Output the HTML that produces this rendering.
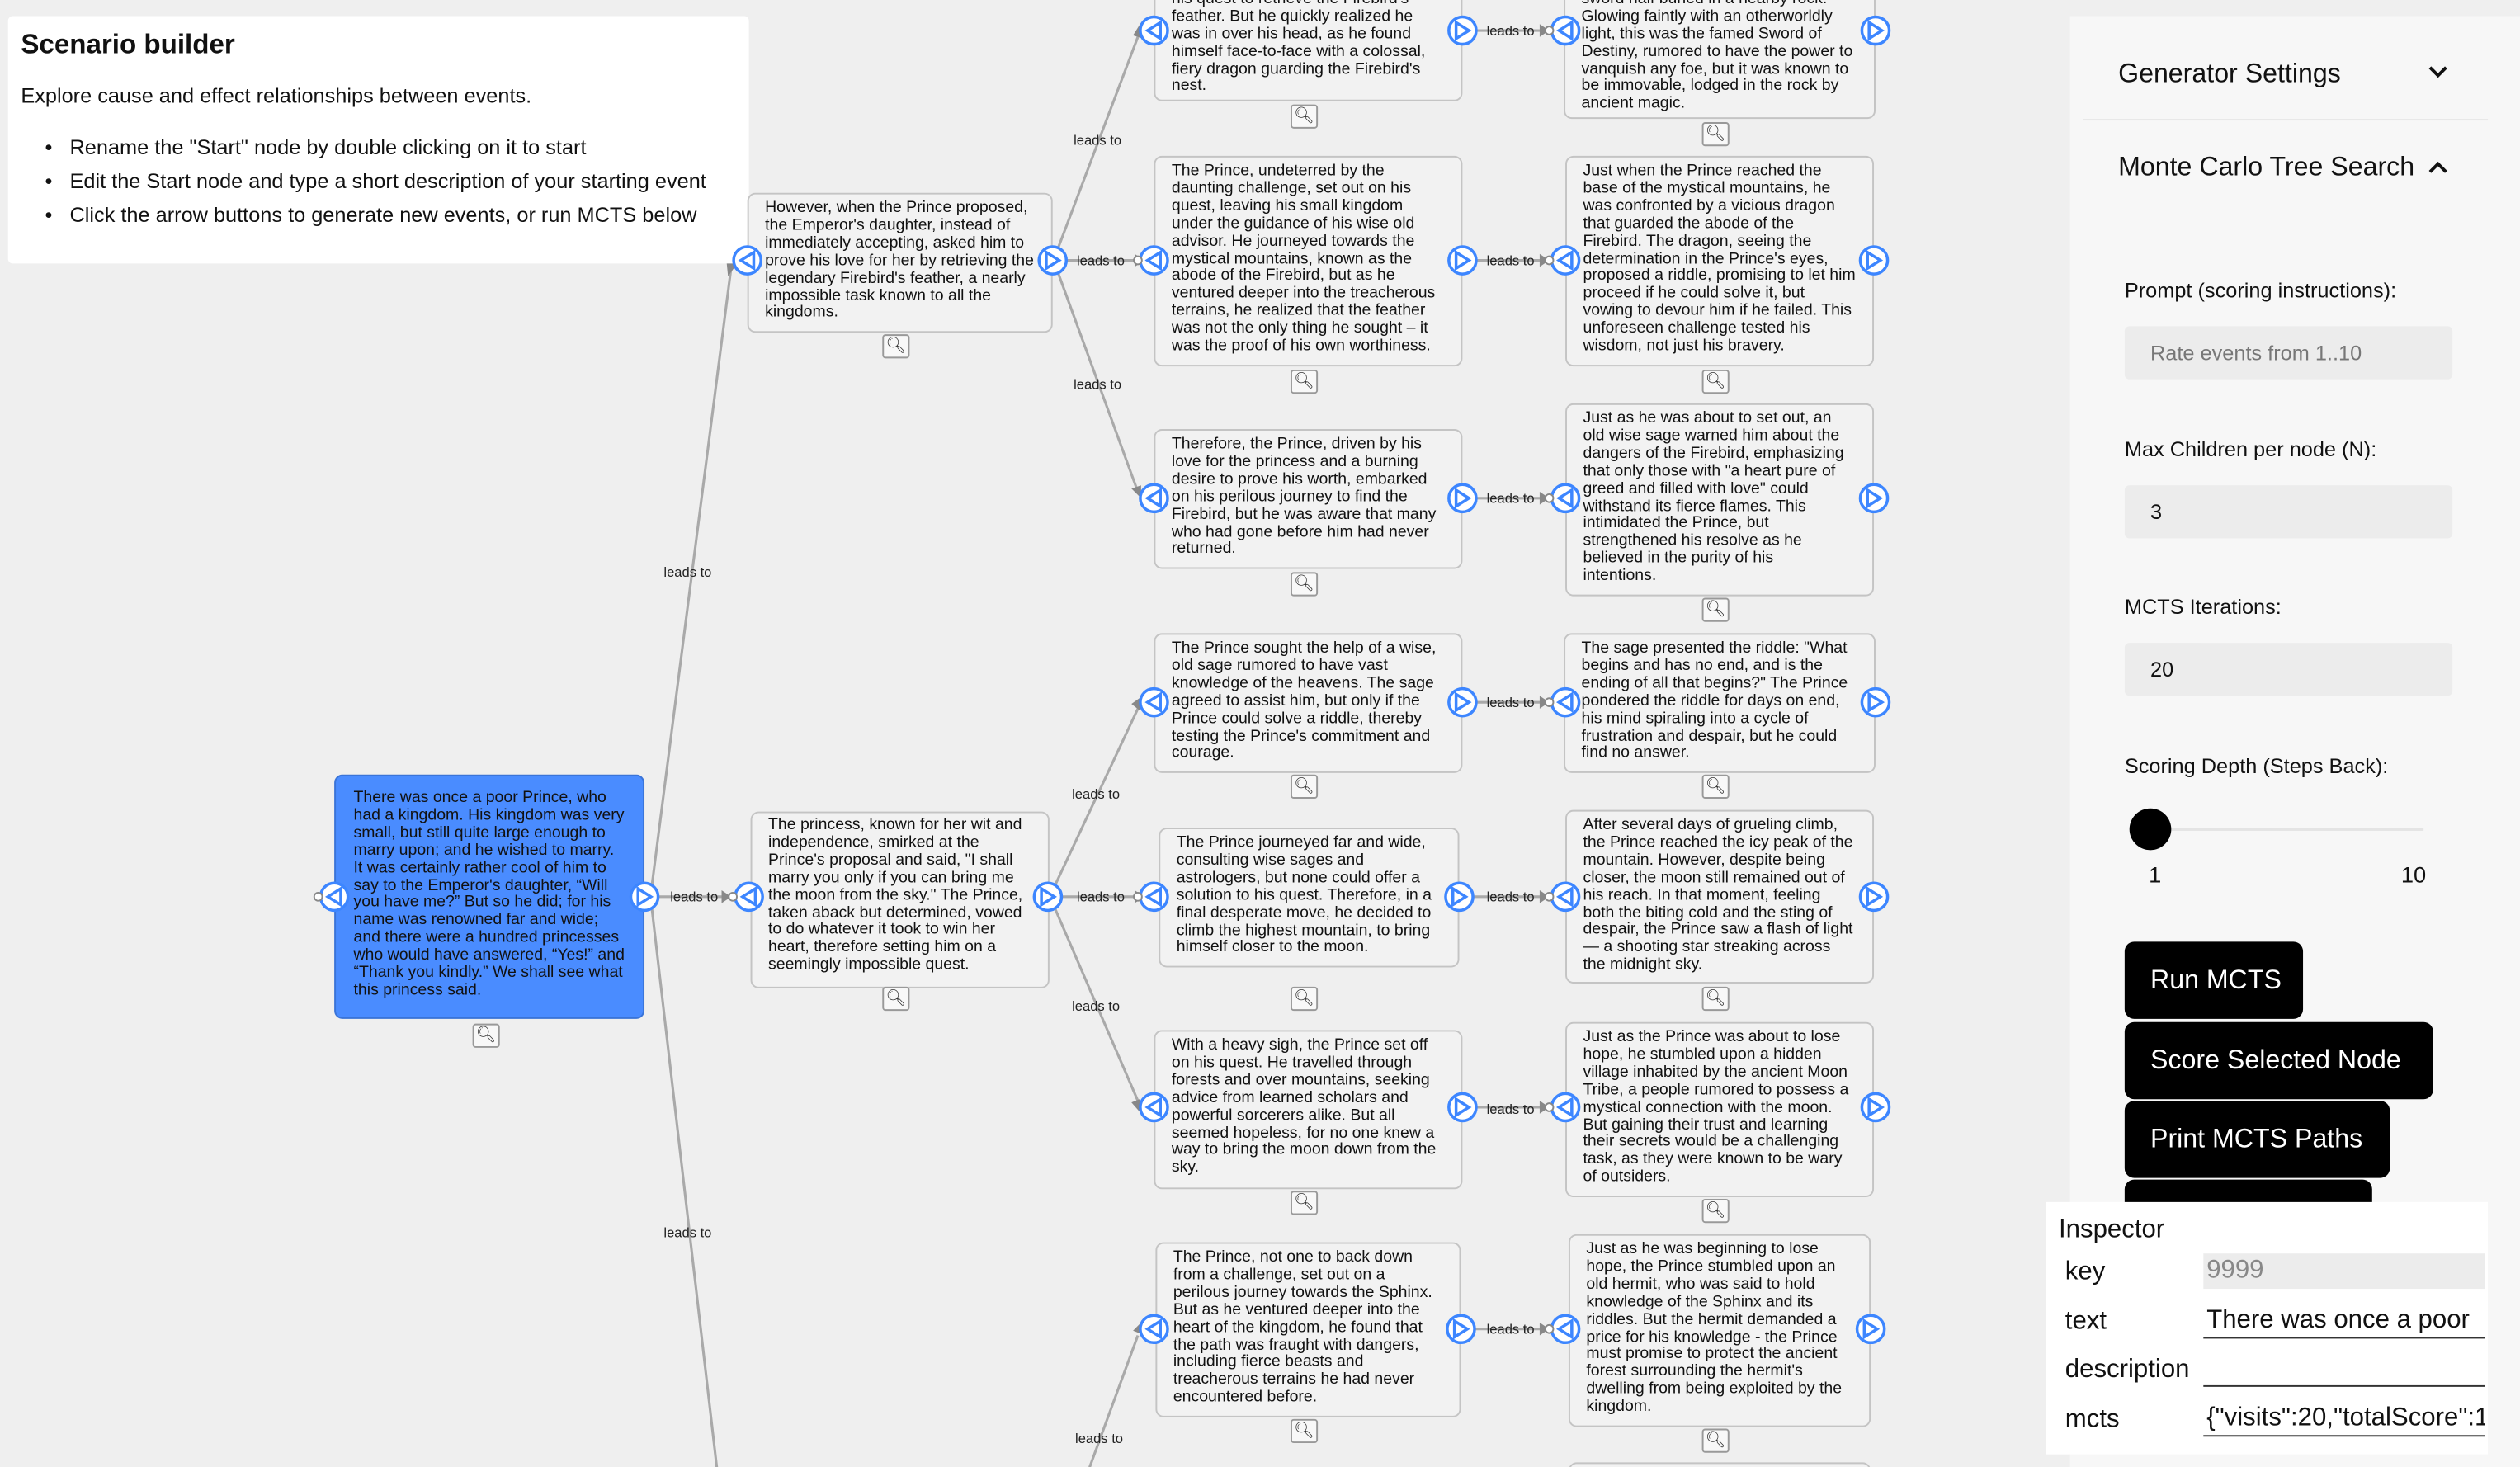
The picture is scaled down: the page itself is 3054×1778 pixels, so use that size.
<!DOCTYPE html>
<html><head><meta charset="utf-8">
<style>
html,body{margin:0;padding:0;}
body{width:3054px;height:1778px;overflow:hidden;background:#efefef;font-family:"Liberation Sans",Arial,sans-serif;}
#s{position:absolute;left:0;top:0;width:1568px;height:913px;transform:scale(1.94770);transform-origin:0 0;overflow:hidden;}
.n{position:absolute;background:#f2f2f2;border:1px solid #c4c4c4;border-radius:5px;box-sizing:border-box;padding:9px 10px 0 10px;font-size:10px;line-height:10.9px;color:#111;overflow:hidden;}
.n.b{background:#4a8cff;border-color:#3a74d8;}
.m{position:absolute;width:17px;height:15px;background:#f8f8f8;border:1px solid #999;border-radius:2px;box-sizing:border-box;font-size:10px;line-height:13px;text-align:center;color:#333;}
.lbl{position:absolute;font-size:8.5px;color:#222;}
.p{position:absolute;font-size:13px;color:#111;}
</style></head><body><div id="s">

<svg width="1568" height="913" style="position:absolute;left:0;top:0">
<g stroke="#a9a9a9" stroke-width="1.6" fill="none">
<line x1="405" y1="556" x2="455" y2="166"/>
<line x1="405" y1="560" x2="446" y2="913"/>
<line x1="405" y1="558" x2="458" y2="558"/>
<line x1="657" y1="158" x2="708" y2="23"/>
<line x1="657" y1="162" x2="710" y2="162"/>
<line x1="657" y1="166" x2="708" y2="306"/>
<line x1="655" y1="554" x2="708" y2="441"/>
<line x1="655" y1="558" x2="710" y2="558"/>
<line x1="655" y1="562" x2="708" y2="685"/>
<line x1="678" y1="913" x2="708" y2="831"/>
<line x1="912" y1="19" x2="965" y2="19"/>
<line x1="912" y1="162" x2="965" y2="162"/>
<line x1="912" y1="310" x2="965" y2="310"/>
<line x1="912" y1="437" x2="965" y2="437"/>
<line x1="912" y1="558" x2="965" y2="558"/>
<line x1="912" y1="689" x2="965" y2="689"/>
<line x1="912" y1="827" x2="965" y2="827"/>
</g>
<g fill="#888">
<polygon points="453,172 452,162 458,165"/>
<polygon points="455,558 449,554 449,562"/>
<polygon points="710,14 705,22 711,24"/>
<polygon points="712,162 706,158 706,166"/>
<polygon points="710,310 704,304 710,302"/>
<polygon points="711,433 704,438 709,442"/>
<polygon points="712,558 706,554 706,562"/>
<polygon points="711,694 704,686 709,684"/>
<polygon points="711,822 705,828 710,830"/>
<polygon points="964,19 958,15 958,23"/><polygon points="964,162 958,158 958,166"/>
<polygon points="964,310 958,306 958,314"/><polygon points="964,437 958,433 958,441"/>
<polygon points="964,558 958,554 958,562"/><polygon points="964,689 958,685 958,693"/>
<polygon points="964,827 958,823 958,831"/>
</g>
</svg>

<!-- left panel -->
<div style="position:absolute;left:5px;top:10px;width:461px;height:154px;background:#fff;border-radius:3px"></div>
<div style="position:absolute;left:13px;top:18px;font-size:17px;font-weight:bold;color:#111">Scenario builder</div>
<div class="p" style="left:13px;top:52px">Explore cause and effect relationships between events.</div>
<div class="p" style="left:28px;top:84px">•&nbsp;&nbsp; Rename the "Start" node by double clicking on it to start</div>
<div class="p" style="left:28px;top:105px">•&nbsp;&nbsp; Edit the Start node and type a short description of your starting event</div>
<div class="p" style="left:28px;top:126px">•&nbsp;&nbsp; Click the arrow buttons to generate new events, or run MCTS below</div>

<!-- labels -->
<div class="lbl" style="left:413px;top:351px">leads to</div>
<div class="lbl" style="left:413px;top:762px">leads to</div>
<div class="lbl" style="left:417px;top:553px">leads to</div>
<div class="lbl" style="left:668px;top:82px">leads to</div>
<div class="lbl" style="left:670px;top:157px">leads to</div>
<div class="lbl" style="left:668px;top:234px">leads to</div>
<div class="lbl" style="left:667px;top:489px">leads to</div>
<div class="lbl" style="left:670px;top:553px">leads to</div>
<div class="lbl" style="left:667px;top:621px">leads to</div>
<div class="lbl" style="left:669px;top:890px">leads to</div>
<div class="lbl" style="left:925px;top:14px">leads to</div>
<div class="lbl" style="left:925px;top:157px">leads to</div>
<div class="lbl" style="left:925px;top:305px">leads to</div>
<div class="lbl" style="left:925px;top:432px">leads to</div>
<div class="lbl" style="left:925px;top:553px">leads to</div>
<div class="lbl" style="left:925px;top:685px">leads to</div>
<div class="lbl" style="left:925px;top:822px">leads to</div>

<!-- nodes -->
<div class="n b" style="left:208px;top:482px;width:193px;height:152px;padding-left:11px">There was once a poor Prince, who had a kingdom. His kingdom was very small, but still quite large enough to marry upon; and he wished to marry. It was certainly rather cool of him to say to the Emperor's daughter, “Will you have me?” But so he did; for his name was renowned far and wide; and there were a hundred princesses who would have answered, “Yes!” and “Thank you kindly.” We shall see what this princess said.</div>
<div class="m" style="left:294px;top:637px">&#x1F50D;&#xFE0E;</div>

<div class="n" style="left:465px;top:120px;width:190px;height:87px;padding-top:4px">However, when the Prince proposed, the Emperor's daughter, instead of immediately accepting, asked him to prove his love for her by retrieving the legendary Firebird's feather, a nearly impossible task known to all the kingdoms.</div>
<div class="m" style="left:549px;top:208px">&#x1F50D;&#xFE0E;</div>
<div class="n" style="left:467px;top:505px;width:186px;height:110px;padding-top:3px">The princess, known for her wit and independence, smirked at the Prince's proposal and said, "I shall marry you only if you can bring me the moon from the sky." The Prince, taken aback but determined, vowed to do whatever it took to win her heart, therefore setting him on a seemingly impossible quest.</div>
<div class="m" style="left:549px;top:614px">&#x1F50D;&#xFE0E;</div>

<div class="n" style="left:718px;top:-20px;width:192px;height:83px;padding-top:3px">Thereafter, the Prince embarked on his quest to retrieve the Firebird's feather. But he quickly realized he was in over his head, as he found himself face-to-face with a colossal, fiery dragon guarding the Firebird's nest.</div>
<div class="m" style="left:803px;top:65px">&#x1F50D;&#xFE0E;</div>
<div class="n" style="left:718px;top:97px;width:192px;height:131px;padding-top:4px">The Prince, undeterred by the daunting challenge, set out on his quest, leaving his small kingdom under the guidance of his wise old advisor. He journeyed towards the mystical mountains, known as the abode of the Firebird, but as he ventured deeper into the treacherous terrains, he realized that the feather was not the only thing he sought – it was the proof of his own worthiness.</div>
<div class="m" style="left:803px;top:230px">&#x1F50D;&#xFE0E;</div>
<div class="n" style="left:718px;top:267px;width:192px;height:87px;padding-top:4px">Therefore, the Prince, driven by his love for the princess and a burning desire to prove his worth, embarked on his perilous journey to find the Firebird, but he was aware that many who had gone before him had never returned.</div>
<div class="m" style="left:803px;top:356px">&#x1F50D;&#xFE0E;</div>
<div class="n" style="left:718px;top:394px;width:192px;height:87px;padding-top:4px">The Prince sought the help of a wise, old sage rumored to have vast knowledge of the heavens. The sage agreed to assist him, but only if the Prince could solve a riddle, thereby testing the Prince's commitment and courage.</div>
<div class="m" style="left:803px;top:482px">&#x1F50D;&#xFE0E;</div>
<div class="n" style="left:721px;top:515px;width:187px;height:87px;padding-top:4px">The Prince journeyed far and wide, consulting wise sages and astrologers, but none could offer a solution to his quest. Therefore, in a final desperate move, he decided to climb the highest mountain, to bring himself closer to the moon.</div>
<div class="m" style="left:803px;top:614px">&#x1F50D;&#xFE0E;</div>
<div class="n" style="left:718px;top:641px;width:192px;height:99px;padding-top:4px">With a heavy sigh, the Prince set off on his quest. He travelled through forests and over mountains, seeking advice from learned scholars and powerful sorcerers alike. But all seemed hopeless, for no one knew a way to bring the moon down from the sky.</div>
<div class="m" style="left:803px;top:741px">&#x1F50D;&#xFE0E;</div>
<div class="n" style="left:719px;top:773px;width:190px;height:109px;padding-top:4px">The Prince, not one to back down from a challenge, set out on a perilous journey towards the Sphinx. But as he ventured deeper into the heart of the kingdom, he found that the path was fraught with dangers, including fierce beasts and treacherous terrains he had never encountered before.</div>
<div class="m" style="left:803px;top:883px">&#x1F50D;&#xFE0E;</div>

<div class="n" style="left:973px;top:-20px;width:194px;height:94px;padding-top:3px">Deep in the forest, he came upon a sword half buried in a nearby rock. Glowing faintly with an otherworldly light, this was the famed Sword of Destiny, rumored to have the power to vanquish any foe, but it was known to be immovable, lodged in the rock by ancient magic.</div>
<div class="m" style="left:1059px;top:76px">&#x1F50D;&#xFE0E;</div>
<div class="n" style="left:974px;top:97px;width:192px;height:131px;padding-top:4px">Just when the Prince reached the base of the mystical mountains, he was confronted by a vicious dragon that guarded the abode of the Firebird. The dragon, seeing the determination in the Prince's eyes, proposed a riddle, promising to let him proceed if he could solve it, but vowing to devour him if he failed. This unforeseen challenge tested his wisdom, not just his bravery.</div>
<div class="m" style="left:1059px;top:230px">&#x1F50D;&#xFE0E;</div>
<div class="n" style="left:974px;top:251px;width:192px;height:120px;padding-top:4px;padding-right:14px">Just as he was about to set out, an old wise sage warned him about the dangers of the Firebird, emphasizing that only those with "a heart pure of greed and filled with love" could withstand its fierce flames. This intimidated the Prince, but strengthened his resolve as he believed in the purity of his intentions.</div>
<div class="m" style="left:1059px;top:372px">&#x1F50D;&#xFE0E;</div>
<div class="n" style="left:973px;top:394px;width:194px;height:87px;padding-top:4px">The sage presented the riddle: "What begins and has no end, and is the ending of all that begins?" The Prince pondered the riddle for days on end, his mind spiraling into a cycle of frustration and despair, but he could find no answer.</div>
<div class="m" style="left:1059px;top:482px">&#x1F50D;&#xFE0E;</div>
<div class="n" style="left:974px;top:504px;width:192px;height:108px;padding-top:4px">After several days of grueling climb, the Prince reached the icy peak of the mountain. However, despite being closer, the moon still remained out of his reach. In that moment, feeling both the biting cold and the sting of despair, the Prince saw a flash of light— a shooting star streaking across the midnight sky.</div>
<div class="m" style="left:1059px;top:614px">&#x1F50D;&#xFE0E;</div>
<div class="n" style="left:974px;top:636px;width:192px;height:109px;padding-top:4px">Just as the Prince was about to lose hope, he stumbled upon a hidden village inhabited by the ancient Moon Tribe, a people rumored to possess a mystical connection with the moon. But gaining their trust and learning their secrets would be a challenging task, as they were known to be wary of outsiders.</div>
<div class="m" style="left:1059px;top:746px">&#x1F50D;&#xFE0E;</div>
<div class="n" style="left:976px;top:768px;width:188px;height:120px;padding-top:4px">Just as he was beginning to lose hope, the Prince stumbled upon an old hermit, who was said to hold knowledge of the Sphinx and its riddles. But the hermit demanded a price for his knowledge - the Prince must promise to protect the ancient forest surrounding the hermit's dwelling from being exploited by the kingdom.</div>
<div class="m" style="left:1059px;top:889px">&#x1F50D;&#xFE0E;</div>
<div class="n" style="left:976px;top:910px;width:188px;height:20px"></div>

<!-- ports (on top of nodes) -->
<svg width="1568" height="913" style="position:absolute;left:0;top:0;pointer-events:none">
<g stroke="#3d86ff" stroke-width="1.8" fill="#fff">
<g><circle cx="208" cy="558" r="8.5"/><polygon points="204,558 212,553 212,563" fill="none"/></g>
<g><circle cx="465" cy="162" r="8.5"/><polygon points="461,162 469,157 469,167" fill="none"/></g>
<g><circle cx="466" cy="558" r="8.5"/><polygon points="462,558 470,553 470,563" fill="none"/></g>
<g><circle cx="718" cy="19" r="8.5"/><polygon points="714,19 722,14 722,24" fill="none"/></g>
<g><circle cx="718" cy="162" r="8.5"/><polygon points="714,162 722,157 722,167" fill="none"/></g>
<g><circle cx="718" cy="310" r="8.5"/><polygon points="714,310 722,305 722,315" fill="none"/></g>
<g><circle cx="718" cy="437" r="8.5"/><polygon points="714,437 722,432 722,442" fill="none"/></g>
<g><circle cx="718" cy="558" r="8.5"/><polygon points="714,558 722,553 722,563" fill="none"/></g>
<g><circle cx="718" cy="689" r="8.5"/><polygon points="714,689 722,684 722,694" fill="none"/></g>
<g><circle cx="718" cy="827" r="8.5"/><polygon points="714,827 722,822 722,832" fill="none"/></g>
<g><circle cx="974" cy="19" r="8.5"/><polygon points="970,19 978,14 978,24" fill="none"/></g>
<g><circle cx="974" cy="162" r="8.5"/><polygon points="970,162 978,157 978,167" fill="none"/></g>
<g><circle cx="974" cy="310" r="8.5"/><polygon points="970,310 978,305 978,315" fill="none"/></g>
<g><circle cx="974" cy="437" r="8.5"/><polygon points="970,437 978,432 978,442" fill="none"/></g>
<g><circle cx="974" cy="558" r="8.5"/><polygon points="970,558 978,553 978,563" fill="none"/></g>
<g><circle cx="974" cy="689" r="8.5"/><polygon points="970,689 978,684 978,694" fill="none"/></g>
<g><circle cx="974" cy="827" r="8.5"/><polygon points="970,827 978,822 978,832" fill="none"/></g>
<g><circle cx="401" cy="558" r="8.5"/><polygon points="405,558 397,553 397,563" fill="none"/></g>
<g><circle cx="655" cy="162" r="8.5"/><polygon points="659,162 651,157 651,167" fill="none"/></g>
<g><circle cx="652" cy="558" r="8.5"/><polygon points="656,558 648,553 648,563" fill="none"/></g>
<g><circle cx="910" cy="19" r="8.5"/><polygon points="914,19 906,14 906,24" fill="none"/></g>
<g><circle cx="910" cy="162" r="8.5"/><polygon points="914,162 906,157 906,167" fill="none"/></g>
<g><circle cx="910" cy="310" r="8.5"/><polygon points="914,310 906,305 906,315" fill="none"/></g>
<g><circle cx="910" cy="437" r="8.5"/><polygon points="914,437 906,432 906,442" fill="none"/></g>
<g><circle cx="908" cy="558" r="8.5"/><polygon points="912,558 904,553 904,563" fill="none"/></g>
<g><circle cx="910" cy="689" r="8.5"/><polygon points="914,689 906,684 906,694" fill="none"/></g>
<g><circle cx="909" cy="827" r="8.5"/><polygon points="913,827 905,822 905,832" fill="none"/></g>
<g><circle cx="1167" cy="19" r="8.5"/><polygon points="1171,19 1163,14 1163,24" fill="none"/></g>
<g><circle cx="1166" cy="162" r="8.5"/><polygon points="1170,162 1162,157 1162,167" fill="none"/></g>
<g><circle cx="1166" cy="310" r="8.5"/><polygon points="1170,310 1162,305 1162,315" fill="none"/></g>
<g><circle cx="1167" cy="437" r="8.5"/><polygon points="1171,437 1163,432 1163,442" fill="none"/></g>
<g><circle cx="1166" cy="558" r="8.5"/><polygon points="1170,558 1162,553 1162,563" fill="none"/></g>
<g><circle cx="1167" cy="689" r="8.5"/><polygon points="1171,689 1163,684 1163,694" fill="none"/></g>
<g><circle cx="1164" cy="827" r="8.5"/><polygon points="1168,827 1160,822 1160,832" fill="none"/></g>
</g>
<g fill="#fff" stroke="#888" stroke-width="1"><circle cx="198" cy="558" r="2.5"/><circle cx="456" cy="558" r="2.5"/><circle cx="708" cy="162" r="2.5"/><circle cx="708" cy="558" r="2.5"/>
<circle cx="964" cy="19" r="2.5"/><circle cx="964" cy="162" r="2.5"/><circle cx="964" cy="310" r="2.5"/><circle cx="964" cy="437" r="2.5"/><circle cx="964" cy="558" r="2.5"/><circle cx="964" cy="689" r="2.5"/><circle cx="964" cy="827" r="2.5"/></g>
</svg>

<!-- right panel -->
<div style="position:absolute;left:1288px;top:10px;width:280px;height:903px;background:#f7f7f7"></div>
<div style="position:absolute;left:1296px;top:74px;width:252px;height:1px;background:#e6e6e6"></div>
<div style="position:absolute;left:1318px;top:37px;font-size:16.5px;color:#111">Generator Settings</div>
<svg style="position:absolute;left:1510px;top:40px" width="14" height="10"><polyline points="2,2 7,7 12,2" stroke="#111" stroke-width="2" fill="none"/></svg>
<div style="position:absolute;left:1318px;top:95px;font-size:16.5px;color:#111">Monte Carlo Tree Search</div>
<svg style="position:absolute;left:1510px;top:99px" width="14" height="10"><polyline points="2,8 7,3 12,8" stroke="#111" stroke-width="2" fill="none"/></svg>
<div class="p" style="left:1322px;top:173px">Prompt (scoring instructions):</div>
<div style="position:absolute;left:1322px;top:203px;width:204px;height:33px;background:#ececec;border-radius:3px;font-size:13px;color:#777;line-height:33px;padding-left:16px;box-sizing:border-box">Rate events from 1..10</div>
<div class="p" style="left:1322px;top:272px">Max Children per node (N):</div>
<div style="position:absolute;left:1322px;top:302px;width:204px;height:33px;background:#ececec;border-radius:3px;font-size:13px;color:#111;line-height:33px;padding-left:16px;box-sizing:border-box">3</div>
<div class="p" style="left:1322px;top:370px">MCTS Iterations:</div>
<div style="position:absolute;left:1322px;top:400px;width:204px;height:33px;background:#ececec;border-radius:3px;font-size:13px;color:#111;line-height:33px;padding-left:16px;box-sizing:border-box">20</div>
<div class="p" style="left:1322px;top:469px">Scoring Depth (Steps Back):</div>
<div style="position:absolute;left:1338px;top:515px;width:170px;height:2px;background:#e4e4e4"></div>
<div style="position:absolute;left:1325px;top:503px;width:26px;height:26px;border-radius:50%;background:#000"></div>
<div class="p" style="left:1337px;top:536px;font-size:14px">1</div>
<div class="p" style="left:1494px;top:536px;font-size:14px">10</div>
<div style="position:absolute;left:1322px;top:586px;width:111px;height:48px;background:#000;border-radius:6px;color:#fff;font-size:16.5px;line-height:48px;padding-left:16px;box-sizing:border-box">Run MCTS</div>
<div style="position:absolute;left:1322px;top:636px;width:192px;height:48px;background:#000;border-radius:6px;color:#fff;font-size:16.5px;line-height:48px;padding-left:16px;box-sizing:border-box">Score Selected Node</div>
<div style="position:absolute;left:1322px;top:685px;width:165px;height:48px;background:#000;border-radius:6px;color:#fff;font-size:16.5px;line-height:48px;padding-left:16px;box-sizing:border-box">Print MCTS Paths</div>
<div style="position:absolute;left:1322px;top:734px;width:154px;height:30px;background:#000;border-radius:6px"></div>

<!-- inspector -->
<div style="position:absolute;left:1273px;top:748px;width:275px;height:157px;background:#fff"></div>
<div style="position:absolute;left:1281px;top:757px;font-size:16px;color:#111">Inspector</div>
<div style="position:absolute;left:1285px;top:783px;font-size:16px;color:#111">key</div>
<div style="position:absolute;left:1371px;top:780px;width:175px;height:22px;background:#ececec;font-size:16px;color:#888;line-height:22px;padding-left:2px;box-sizing:border-box">9999</div>
<div style="position:absolute;left:1285px;top:814px;font-size:16px;color:#111">text</div>
<div style="position:absolute;left:1371px;top:811px;width:175px;height:22px;border-bottom:1px solid #333;font-size:16px;color:#111;line-height:22px;padding-left:2px;box-sizing:border-box;overflow:hidden;white-space:nowrap">There was once a poor</div>
<div style="position:absolute;left:1285px;top:844px;font-size:16px;color:#111">description</div>
<div style="position:absolute;left:1371px;top:841px;width:175px;height:22px;border-bottom:1px solid #333;box-sizing:border-box"></div>
<div style="position:absolute;left:1285px;top:875px;font-size:16px;color:#111">mcts</div>
<div style="position:absolute;left:1371px;top:872px;width:175px;height:22px;border-bottom:1px solid #333;font-size:16px;color:#111;line-height:22px;padding-left:2px;box-sizing:border-box;overflow:hidden;white-space:nowrap">{"visits":20,"totalScore":1</div>

</div></body></html>
